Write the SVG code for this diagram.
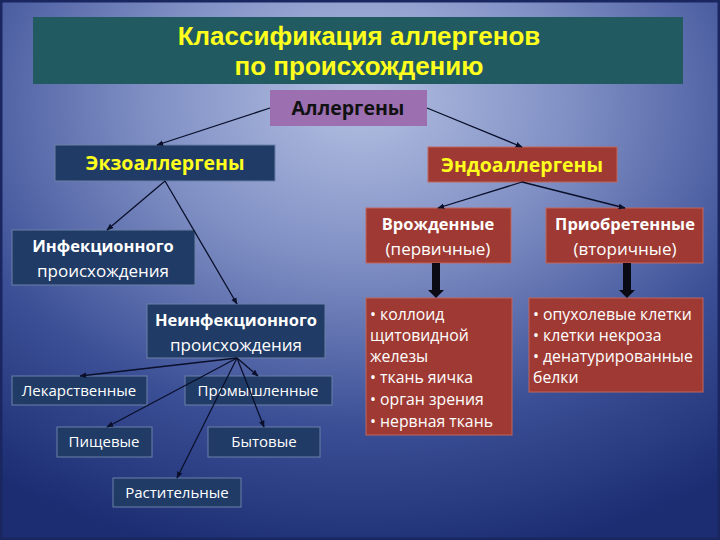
<svg xmlns="http://www.w3.org/2000/svg" width="720" height="540" viewBox="0 0 720 540">
<defs>
<radialGradient id="bg" cx="0.5" cy="0.2" r="0.85" fx="0.5" fy="0.18">
<stop offset="0" stop-color="#b4c0e2"/>
<stop offset="0.35" stop-color="#7f8fc4"/>
<stop offset="0.7" stop-color="#3b4f96"/>
<stop offset="1" stop-color="#1c2d72"/>
</radialGradient>
<marker id="ah" viewBox="0 0 10 10" refX="9" refY="5" markerWidth="7" markerHeight="7" markerUnits="userSpaceOnUse" orient="auto">
<path d="M0,1 L10,5 L0,9 z" fill="#0a0f2a"/>
</marker>
<style>
.navy{fill:#1f3b66;stroke:#6c80a8;stroke-width:1}
.red{fill:#9e3a33;stroke:#c0675e;stroke-width:1}
.t{font-family:"Open Sans","Liberation Sans",sans-serif;text-anchor:middle}
.tt{font-family:"Liberation Sans",Arial,sans-serif;text-anchor:middle;font-weight:bold;font-size:26px}
.b{font-weight:bold}
.w{fill:#ffffff}
.y{fill:#ffff1e}
.s15{font-size:15px}
.s16{font-size:16.5px}
.s17{font-size:17px}
.l{font-family:"Open Sans","Liberation Sans",sans-serif;font-size:15.8px;fill:#ffffff}
.c{stroke:#0a0f2a;stroke-width:1.3;fill:none}
</style>
</defs>
<rect width="720" height="540" fill="url(#bg)"/>
<rect x="1" y="1" width="718" height="538" fill="none" stroke="#1a2660" stroke-width="3"/>

<g id="title">
<rect x="33" y="17" width="650" height="67" fill="#215a60"/>
<text class="tt y" x="359" y="45">Классификация аллергенов</text>
<text class="tt y" x="359" y="75">по происхождению</text>
</g>

<g id="allergens">
<rect x="270" y="90" width="157" height="36" fill="#9b6fb0"/>
<text class="t b" x="348" y="115" font-size="19.5" fill="#111">Аллергены</text>
</g>

<g id="exo">
<rect x="55" y="145" width="220" height="36" class="navy"/>
<text class="t b y" x="165" y="170" font-size="19.5">Экзоаллергены</text>
</g>

<g id="endo">
<rect x="428" y="147" width="189" height="35" class="red"/>
<text class="t b y" x="522" y="172" font-size="19.5">Эндоаллергены</text>
</g>

<g id="infect">
<rect x="12" y="230" width="183" height="55" class="navy"/>
<text class="t b w s16" x="103" y="252">Инфекционного</text>
<text class="t w s17" x="103" y="277">происхождения</text>
</g>

<g id="noninfect">
<rect x="147" y="304" width="178" height="54" class="navy"/>
<text class="t b w s16" x="236" y="326">Неинфекционного</text>
<text class="t w s17" x="236" y="351">происхождения</text>
</g>

<g id="congenital">
<rect x="366" y="208" width="145" height="55" class="red"/>
<text class="t b w s16" x="438" y="230">Врожденные</text>
<text class="t w s17" x="438" y="255">(первичные)</text>
</g>

<g id="acquired">
<rect x="546" y="208" width="157" height="55" class="red"/>
<text class="t b w s16" x="625" y="230">Приобретенные</text>
<text class="t w s17" x="625" y="255">(вторичные)</text>
</g>

<g id="congenital-list">
<rect x="366" y="298" width="146" height="137" class="red"/>
<text class="l" x="370" y="320">• коллоид</text>
<text class="l" x="370" y="341">щитовидной</text>
<text class="l" x="370" y="362">железы</text>
<text class="l" x="370" y="383">• ткань яичка</text>
<text class="l" x="370" y="405">• орган зрения</text>
<text class="l" x="370" y="427">• нервная ткань</text>
</g>

<g id="acquired-list">
<rect x="529" y="298" width="174" height="94" class="red"/>
<text class="l" x="533" y="320">• опухолевые клетки</text>
<text class="l" x="533" y="341">• клетки некроза</text>
<text class="l" x="533" y="362">• денатурированные</text>
<text class="l" x="533" y="383">белки</text>
</g>

<g id="drug">
<rect x="12" y="376" width="135" height="29" class="navy"/>
<text class="t w s15" x="79" y="396">Лекарственные</text>
</g>

<g id="industrial">
<rect x="185" y="376" width="147" height="29" class="navy"/>
<text class="t w s15" x="258" y="396">Промышленные</text>
</g>

<g id="food">
<rect x="57" y="427" width="95" height="30" class="navy"/>
<text class="t w s15" x="104" y="447">Пищевые</text>
</g>

<g id="household">
<rect x="208" y="427" width="112" height="30" class="navy"/>
<text class="t w s15" x="264" y="447">Бытовые</text>
</g>

<g id="plant">
<rect x="113" y="478" width="128" height="29" class="navy"/>
<text class="t w s15" x="177" y="498">Растительные</text>
</g>

<g id="connectors">
<line class="c" x1="270" y1="108" x2="157" y2="145" marker-end="url(#ah)"/>
<line class="c" x1="427" y1="108" x2="522" y2="147" marker-end="url(#ah)"/>
<line class="c" x1="165" y1="181" x2="107" y2="230" marker-end="url(#ah)"/>
<line class="c" x1="165" y1="181" x2="237" y2="304" marker-end="url(#ah)"/>
<line class="c" x1="522" y1="182" x2="438" y2="208" marker-end="url(#ah)"/>
<line class="c" x1="522" y1="182" x2="625" y2="208" marker-end="url(#ah)"/>
<line class="c" x1="237" y1="358" x2="80" y2="376" marker-end="url(#ah)"/>
<line class="c" x1="237" y1="358" x2="258" y2="376" marker-end="url(#ah)"/>
<line class="c" x1="237" y1="358" x2="107" y2="427" marker-end="url(#ah)"/>
<line class="c" x1="237" y1="358" x2="264" y2="427" marker-end="url(#ah)"/>
<line class="c" x1="237" y1="358" x2="177" y2="478" marker-end="url(#ah)"/>
<path d="M432,263 H440 V290 H444 L436,298 L428,290 H432 Z" fill="#0a0a14"/>
<path d="M623,263 H631 V290 H635 L627,298 L619,290 H623 Z" fill="#0a0a14"/>
</g>
</svg>
